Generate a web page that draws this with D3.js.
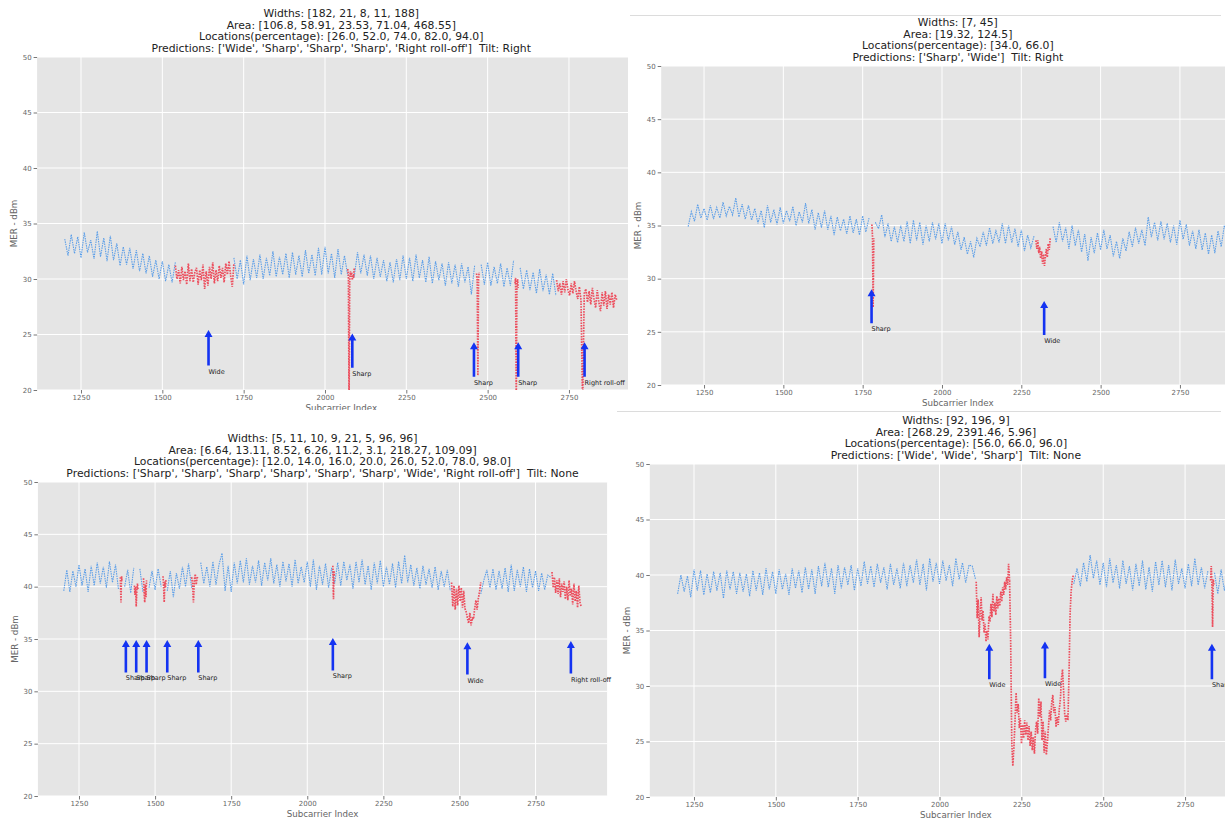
<!DOCTYPE html>
<html>
<head>
<meta charset="utf-8">
<script src="https://cdn.jsdelivr.net/npm/d3@7"></script>
<style>
  body { margin: 0; background: #fff; }
  text { font-family: "DejaVu Sans", sans-serif; }
</style>
</head>
<body>
<svg id="chart" width="1225" height="821"></svg>
<script>
// ---- data ----
const xStart = 1200, xStep = 10;
const xTicks = [1250, 1500, 1750, 2000, 2250, 2500, 2750];
const yTicks = [20, 25, 30, 35, 40, 45, 50];

// panel 1 (top left)
const p1Widths = [182, 21, 8, 11, 188];
const p1Area = [106.8, 58.91, 23.53, 71.04, 468.55];
const p1Loc = [26.0, 52.0, 74.0, 82.0, 94.0];
const p1Pred = ['Wide', 'Sharp', 'Sharp', 'Sharp', 'Right roll-off'];
const p1Tilt = 'Right';
const p1ArrowHead = [25.4, 25.1, 24.3, 24.3, 24.3];
const p1ArrowTail = [22.2, 22.0, 21.2, 21.2, 21.2];
const p1Blue = [
  33.6, 32.1, 34.0, 32.3, 33.8, 31.9, 34.2, 32.4, 33.5, 31.8,
  34.3, 32.0, 33.7, 31.6, 33.9, 31.7, 33.2, 31.2, 32.9, 31.3,
  32.8, 30.9, 32.6, 30.7, 32.3, 30.5, 32.1, 30.2, 31.7, 30.0,
  31.6, 29.8, 31.3, 29.7, 31.5, 29.4, 31.3, 29.6, 31.2, 29.5,
  31.7, 29.4, 31.1, 29.2, 31.4, 29.6, 31.6, 29.3, 31.2, 29.8,
  31.8, 29.4, 31.9, 30.0, 31.7, 29.5, 32.1, 29.9, 31.8, 30.1,
  32.2, 30.0, 31.9, 30.3, 32.5, 30.2, 32.0, 30.4, 32.3, 30.1,
  32.4, 30.4, 32.1, 30.2, 32.6, 30.5, 32.2, 30.3, 32.8, 30.4,
  32.9, 30.5, 32.3, 30.1, 32.7, 30.4, 32.1, 30.3, 32.0, 30.2,
  32.4, 30.5, 32.2, 30.3, 32.1, 30.0, 31.9, 30.2, 31.7, 29.8,
  31.5, 29.7, 31.8, 29.9, 32.1, 30.0, 31.9, 29.8, 32.2, 30.1,
  31.7, 29.7, 32.0, 29.6, 31.6, 29.9, 31.4, 29.4, 31.5, 29.6,
  31.3, 29.3, 31.4, 29.7, 31.1, 28.6, 31.2, 29.4, 31.3, 29.5,
  31.5, 29.4, 31.1, 29.6, 31.4, 29.3, 31.0, 29.4, 31.7, 29.2,
  31.0, 29.1, 30.8, 29.0, 30.6, 28.7, 30.9, 28.9, 30.4, 28.6,
  30.5, 28.5, 30.0, 28.4, 30.3, 28.2, 29.9, 28.1, 30.1, 27.9,
  29.8, 27.6, 29.5, 27.3, 29.4, 27.7, 29.1, 27.4, 29.3, 27.5,
  28.5
];
const p1Red = [
  { start: 1540, step: 5, values: [
    31.2, 30.0, 30.8, 29.6, 31.1, 29.9, 30.7, 29.5, 31.4, 29.8,
    30.9, 29.7, 30.6, 31.0, 29.5, 30.8, 29.9, 31.3, 29.1, 30.7,
    29.4, 31.1, 30.0, 31.5, 29.6, 30.8, 29.8, 31.2, 30.1, 31.0,
    29.7, 31.4, 30.4, 31.6, 30.3, 29.3, 31.4] },
  { start: 2070, step: 2, values: [30.9, 30.3, 18.5, 29.8, 30.7, 30.2, 30.6, 29.9, 30.4, 30.1, 31.0] },
  { start: 2466, step: 2, values: [30.5, 29.8, 21.3, 30.0, 30.6] },
  { start: 2584, step: 2, values: [29.6, 30.1, 18.5, 29.4, 30.0, 29.2] },
  { start: 2712, step: 5, values: [
    29.9, 28.9, 29.6, 28.6, 29.8, 28.8, 30.0, 29.0, 28.5, 29.6,
    28.7, 29.8, 28.9, 28.2, 29.3, 28.1, 18.5, 28.7, 29.1, 27.9,
    28.9, 27.7, 29.2, 28.2, 27.4, 29.0, 27.9, 27.1, 28.8, 27.6,
    28.9, 27.3, 28.6, 27.7, 28.8, 27.4, 28.6, 28.1] }
];

// panel 2 (top right)
const p2Widths = [7, 45];
const p2Area = [19.32, 124.5];
const p2Loc = [34.0, 66.0];
const p2Pred = ['Sharp', 'Wide'];
const p2Tilt = 'Right';
const p2ArrowHead = [29.0, 27.9];
const p2ArrowTail = [25.8, 24.7];
const p2Blue = [
  34.9, 36.3, 35.4, 37.0, 35.7, 36.6, 35.5, 36.9, 35.6, 36.7,
  35.7, 37.2, 35.9, 36.8, 36.0, 37.6, 35.8, 37.0, 35.6, 36.9,
  35.5, 36.6, 35.2, 36.4, 34.8, 36.9, 35.3, 36.5, 35.1, 36.7,
  35.2, 36.4, 35.4, 36.8, 35.0, 36.3, 35.3, 37.1, 35.2, 36.5,
  34.6, 36.2, 34.8, 36.4, 34.6, 35.9, 34.1, 35.8, 34.5, 35.6,
  34.2, 35.9, 34.3, 35.6, 34.1, 35.9, 34.4, 35.7, 34.5, 35.3,
  34.7, 36.0, 33.9, 35.2, 33.5, 34.9, 33.4, 35.0, 33.5, 35.4,
  33.3, 35.5, 33.6, 35.3, 33.2, 35.0, 33.5, 35.3, 33.7, 35.2,
  33.3, 35.2, 33.6, 34.9, 33.2, 34.4, 32.7, 33.9, 32.3, 33.5,
  32.0, 33.8, 33.0, 34.4, 33.1, 34.8, 33.3, 34.5, 33.4, 35.2,
  33.3, 35.0, 33.4, 34.7, 33.0, 34.6, 32.6, 34.1, 32.9, 34.0,
  32.5, 33.2, 32.3, 33.4, 33.1, 34.9, 33.4, 35.3, 33.5, 34.8,
  32.8, 35.0, 33.1, 34.6, 32.5, 34.2, 31.7, 33.9, 32.4, 34.3,
  32.7, 34.6, 32.8, 34.1, 32.1, 33.5, 31.9, 33.8, 32.6, 34.4,
  33.0, 34.8, 33.3, 34.6, 33.1, 35.8, 33.9, 35.3, 33.6, 35.4,
  33.7, 35.2, 33.4, 35.0, 33.2, 35.5, 33.7, 35.1, 33.1, 34.5,
  32.8, 34.6, 32.7, 34.3, 32.3, 34.1, 32.4, 34.5, 33.0, 35.0,
  34.3
];
const p2Red = [
  { start: 1779, step: 2, values: [35.1, 34.0, 27.3, 33.8] },
  { start: 2296, step: 3, values: [33.6, 32.8, 33.6, 32.4, 33.0, 31.9, 32.6, 31.4, 32.3, 31.2, 32.1, 32.8, 32.0, 33.3, 32.7, 33.8] }
];

// panel 3 (bottom left)
const p3Widths = [5, 11, 10, 9, 21, 5, 96, 96];
const p3Area = [6.64, 13.11, 8.52, 6.26, 11.2, 3.1, 218.27, 109.09];
const p3Loc = [12.0, 14.0, 16.0, 20.0, 26.0, 52.0, 78.0, 98.0];
const p3Pred = ['Sharp', 'Sharp', 'Sharp', 'Sharp', 'Sharp', 'Sharp', 'Wide', 'Right roll-off'];
const p3Tilt = 'None';
const p3ArrowHead = [34.9, 34.9, 34.9, 34.9, 34.9, 35.1, 34.7, 34.8];
const p3ArrowTail = [31.8, 31.8, 31.8, 31.8, 31.8, 32.0, 31.6, 31.7];
const p3Blue = [
  39.6, 41.6, 39.5, 41.5, 40.0, 42.1, 40.1, 41.7, 39.5, 42.0,
  40.1, 42.3, 40.3, 41.9, 39.9, 42.4, 40.4, 42.1, 39.7, 41.9,
  40.0, 41.6, 39.4, 41.8, 39.8, 41.7, 39.5, 42.0, 39.9, 41.5,
  39.7, 41.7, 40.0, 42.1, 39.6, 41.5, 39.0, 41.3, 39.8, 41.9,
  40.0, 42.2, 39.9, 41.7, 40.2, 42.3, 40.3, 41.9, 40.0, 42.4,
  40.2, 42.1, 43.2, 39.6, 42.0, 39.5, 42.3, 40.3, 42.5, 40.4,
  42.7, 40.2, 42.0, 40.4, 42.5, 40.1, 42.3, 40.6, 42.7, 40.3,
  42.1, 40.0, 42.4, 40.5, 42.2, 40.0, 42.6, 40.3, 41.9, 40.4,
  42.4, 40.0, 42.6, 39.7, 42.0, 40.2, 42.2, 39.9, 41.8, 40.3,
  42.3, 40.1, 42.4, 40.6, 42.1, 39.8, 42.4, 40.4, 42.6, 40.2,
  42.0, 39.7, 42.3, 40.3, 42.5, 40.0, 41.9, 40.2, 42.2, 39.9,
  42.4, 40.3, 43.0, 40.4, 42.1, 40.1, 41.8, 39.8, 42.0, 40.2,
  41.7, 39.9, 41.9, 39.7, 41.5, 40.0, 41.6, 39.6, 39.8, 39.4,
  39.6, 39.1, 38.6, 37.4, 36.9, 37.2, 38.1, 39.3, 40.6, 41.6,
  39.9, 41.7, 39.7, 41.5, 39.8, 41.8, 39.5, 42.1, 39.6, 41.6,
  40.0, 41.9, 39.5, 41.7, 39.9, 41.5, 39.6, 41.3, 39.7, 41.1,
  40.9, 40.1, 39.8, 40.3, 39.5, 39.9, 39.2, 39.7, 38.9, 39.4,
  39.0
];
const p3Red = [
  { start: 1386, step: 1, values: [40.9, 39.6, 38.5, 40.2, 41.0, 40.5] },
  { start: 1432, step: 2, values: [40.1, 39.2, 40.0, 38.1, 39.6, 40.3, 39.7] },
  { start: 1462, step: 2, values: [40.8, 39.4, 38.5, 40.2, 39.0, 40.6] },
  { start: 1526, step: 2, values: [41.0, 40.1, 38.5, 40.5, 39.9, 40.7] },
  { start: 1620, step: 3, values: [40.9, 40.3, 38.5, 40.6, 41.2, 40.2, 40.8, 41.0] },
  { start: 2084, step: 1, values: [42.0, 40.5, 38.8, 40.2, 41.5, 41.0] },
  { start: 2474, step: 4, values: [
    40.4, 38.1, 40.1, 37.8, 39.8, 38.2, 40.1, 38.6, 39.9, 38.0,
    39.6, 37.9, 37.6, 37.0, 36.5, 37.5, 36.3, 37.0, 36.9, 37.9,
    38.7, 37.8, 38.9, 39.5, 40.4] },
  { start: 2804, step: 4, values: [
    41.4, 39.9, 40.9, 39.4, 40.6, 39.3, 40.8, 39.0, 40.3, 39.5,
    40.5, 38.8, 40.0, 38.7, 40.6, 39.1, 39.8, 38.3, 40.3, 38.6,
    39.6, 38.0, 40.1, 38.5, 38.1] }
];

// panel 4 (bottom right)
const p4Widths = [92, 196, 9];
const p4Area = [268.29, 2391.46, 5.96];
const p4Loc = [56.0, 66.0, 96.0];
const p4Pred = ['Wide', 'Wide', 'Sharp'];
const p4Tilt = 'None';
const p4ArrowHead = [33.8, 34.0, 33.8];
const p4ArrowTail = [30.6, 30.7, 30.6];
const p4Blue = [
  38.3, 40.0, 38.5, 39.9, 38.0, 40.5, 38.6, 40.4, 38.2, 40.1,
  38.4, 40.3, 38.6, 40.2, 37.9, 40.4, 38.7, 40.3, 38.3, 40.2,
  38.5, 40.1, 38.1, 40.4, 38.6, 40.2, 38.2, 40.6, 38.7, 40.3,
  38.3, 40.5, 38.7, 40.1, 38.2, 40.6, 38.8, 40.4, 38.4, 40.7,
  38.7, 40.5, 38.3, 40.8, 39.0, 41.1, 38.9, 40.6, 38.3, 40.9,
  38.8, 40.7, 39.1, 40.9, 38.6, 40.6, 39.0, 41.2, 39.2, 40.8,
  38.9, 41.0, 39.3, 40.7, 38.7, 41.0, 39.1, 40.6, 38.8, 41.1,
  39.0, 40.9, 39.3, 41.4, 39.1, 41.0, 38.6, 41.5, 39.4, 41.1,
  39.2, 41.3, 39.5, 40.9, 39.0, 41.5, 39.6, 41.1, 39.3, 40.9,
  40.8, 39.6, null, null, null, null, null, null, null, null,
  null, null, null, null, null, null, null, null, null, null,
  null, null, null, null, null, null, null, null, null, null,
  null, 39.2, 40.6, 39.0, 41.1, 39.4, 41.8, 39.7, 41.3, 39.1,
  41.1, 38.9, 41.5, 39.3, 40.9, 38.8, 41.3, 39.2, 40.8, 38.6,
  41.0, 39.0, 41.3, 38.7, 40.7, 38.5, 41.2, 39.1, 41.3, 38.9,
  40.9, 38.6, 41.4, 39.2, 40.6, 38.8, 41.0, 39.0, 41.5, 39.1,
  40.7, 38.8, 40.4, 39.4, 40.2, 38.3, 40.5, 38.6, 40.1, 38.9,
  39.5
];
const p4Red = [
  { start: 2112, step: 3, values: [
    39.4, 36.1, 37.8, 34.4, 36.6, 38.0, 35.9, 36.8, 34.8, 35.6,
    34.0, 35.0, 34.2, 36.3, 35.8, 37.4, 36.2, 38.3, 36.7, 37.5,
    36.4, 38.1, 37.0, 37.9, 37.2, 38.5, 37.6, 38.9, 38.2, 39.4,
    38.7, 39.8, 39.1, 41.0, 39.5] },
  { start: 2214, step: 3.3, values: [
    39.5, 34.0, 25.0, 22.8, 24.5, 26.8, 29.4, 27.6, 28.4, 26.2,
    27.1, 24.8, 26.5, 25.3, 26.9, 25.6, 26.7, 25.1, 26.4, 24.6,
    25.9, 24.2, 25.4, 23.9, 26.0, 26.8, 25.7, 28.9, 27.2, 28.6,
    25.1, 26.8, 24.0, 25.9, 23.8, 24.9, 26.4, 27.8, 26.9, 28.5,
    29.2, 27.6, 28.1, 26.3, 27.2, 26.5, 27.9, 28.8, 30.6, 31.5,
    29.5, 27.5, 26.8, 27.4, 26.9, 31.0, 36.5, 38.6, 39.5, 40.0] },
  { start: 2828, step: 2, values: [39.5, 40.8, 39.3, 35.3, 39.6, 39.1] }
];

// ---- layout of the four screenshots ----
const panels = [
  { clip: [0, 0, 628, 410], left: 37.1, right: 645.4, top: 57, bottom: 390,
    widths: p1Widths, area: p1Area, loc: p1Loc, pred: p1Pred, tilt: p1Tilt,
    head: p1ArrowHead, tail: p1ArrowTail, blue: p1Blue, red: p1Red },
  { clip: [628, 0, 597, 410], left: 661.2, right: 1254.5, top: 66, bottom: 385, border: 15,
    widths: p2Widths, area: p2Area, loc: p2Loc, pred: p2Pred, tilt: p2Tilt,
    head: p2ArrowHead, tail: p2ArrowTail, blue: p2Blue, red: p2Red },
  { clip: [0, 410, 615, 411], left: 37.9, right: 607.1, top: 482, bottom: 796,
    widths: p3Widths, area: p3Area, loc: p3Loc, pred: p3Pred, tilt: p3Tilt,
    head: p3ArrowHead, tail: p3ArrowTail, blue: p3Blue, red: p3Red },
  { clip: [615, 411, 610, 410], left: 649.8, right: 1262, top: 464, bottom: 797, border: 411,
    widths: p4Widths, area: p4Area, loc: p4Loc, pred: p4Pred, tilt: p4Tilt,
    head: p4ArrowHead, tail: p4ArrowTail, blue: p4Blue, red: p4Red }
];

const svg = d3.select('#chart');
const defs = svg.append('defs');

panels.forEach((p, k) => {
  // clip to the screenshot tile
  defs.append('clipPath').attr('id', 'tile' + k)
    .append('rect')
    .attr('x', p.clip[0]).attr('y', p.clip[1])
    .attr('width', p.clip[2]).attr('height', p.clip[3]);
  defs.append('clipPath').attr('id', 'plot' + k)
    .append('rect')
    .attr('x', p.left).attr('y', p.top)
    .attr('width', p.right - p.left).attr('height', p.bottom - p.top);

  const g = svg.append('g').attr('clip-path', `url(#tile${k})`);

  if (p.border !== undefined) {
    g.append('line')
      .attr('x1', p.clip[0] + 2).attr('x2', p.clip[0] + p.clip[2] - 4)
      .attr('y1', p.border + 0.5).attr('y2', p.border + 0.5)
      .attr('stroke', '#dcdcdc').attr('stroke-width', 1);
  }

  const x = d3.scaleLinear().domain([1115, 2985]).range([p.left, p.right]);
  const y = d3.scaleLinear().domain([20, 50]).range([p.bottom, p.top]);

  g.append('rect')
    .attr('x', p.left).attr('y', p.top)
    .attr('width', p.right - p.left).attr('height', p.bottom - p.top)
    .attr('fill', '#e5e5e5');

  // grid
  g.append('g').selectAll('line').data(xTicks).join('line')
    .attr('x1', d => x(d)).attr('x2', d => x(d))
    .attr('y1', p.top).attr('y2', p.bottom)
    .attr('stroke', '#fff').attr('stroke-width', 1);
  g.append('g').selectAll('line').data(yTicks).join('line')
    .attr('x1', p.left).attr('x2', p.right)
    .attr('y1', d => y(d)).attr('y2', d => y(d))
    .attr('stroke', '#fff').attr('stroke-width', 1);

  // axes
  const xAxisG = g.append('g')
    .attr('transform', `translate(0,${p.bottom})`)
    .call(d3.axisBottom(x).tickValues(xTicks).tickFormat(d3.format('d')).tickSize(3.5).tickPadding(2));
  const yAxisG = g.append('g')
    .attr('transform', `translate(${p.left},0)`)
    .call(d3.axisLeft(y).tickValues(yTicks).tickFormat(d3.format('d')).tickSize(3.5).tickPadding(2));
  [xAxisG, yAxisG].forEach(a => {
    a.select('.domain').remove();
    a.selectAll('line').attr('stroke', '#777');
    a.selectAll('text').attr('fill', '#666').style('font-size', '7px')
      .style('font-family', '"DejaVu Sans", sans-serif');
  });

  g.append('text')
    .attr('x', (p.left + p.right) / 2).attr('y', p.bottom + 21)
    .attr('text-anchor', 'middle').attr('fill', '#666')
    .style('font-size', '8.7px')
    .text('Subcarrier Index');
  g.append('text')
    .attr('transform', `translate(${p.left - 20},${(p.top + p.bottom) / 2}) rotate(-90)`)
    .attr('text-anchor', 'middle').attr('fill', '#666')
    .style('font-size', '8.7px')
    .text('MER - dBm');

  // title
  const lines = [
    `Widths: [${p.widths.join(', ')}]`,
    `Area: [${p.area.join(', ')}]`,
    `Locations(percentage): [${p.loc.map(v => v.toFixed(1)).join(', ')}]`,
    `Predictions: [${p.pred.map(s => `'${s}'`).join(', ')}]  Tilt: ${p.tilt}`
  ];
  g.append('g').selectAll('text').data(lines).join('text')
    .attr('x', (p.left + p.right) / 2)
    .attr('y', (d, i) => p.top - 5 - (3 - i) * 11.7)
    .attr('text-anchor', 'middle').attr('fill', '#222')
    .style('font-size', '10.8px').style('white-space', 'pre')
    .text(d => d);

  // series
  const plot = g.append('g').attr('clip-path', `url(#plot${k})`);
  const segEnd = s => s.start + s.step * (s.values.length - 1);
  const bluePts = p.blue.map((v, i) => [xStart + i * xStep, v]);
  const line = d3.line().x(d => x(d[0])).y(d => y(d[1]))
    .defined(d => d[1] !== null && !p.red.some(s => d[0] > s.start && d[0] < segEnd(s)));
  plot.append('path')
    .attr('d', line(bluePts))
    .attr('fill', 'none').attr('stroke', '#5b9ee8')
    .attr('stroke-width', 1.1).attr('stroke-dasharray', '1.5,0.9');
  p.red.forEach(s => {
    const pts = s.values.map((v, i) => [s.start + i * s.step, v]);
    plot.append('path')
      .attr('d', d3.line().x(d => x(d[0])).y(d => y(d[1]))(pts))
      .attr('fill', 'none').attr('stroke', '#ec4f5e')
      .attr('stroke-width', 1.7).attr('stroke-dasharray', '1.6,1.1');
  });

  // arrows
  p.loc.forEach((l, i) => {
    const ax = x(1200 + l / 100 * 1700);
    const yh = y(p.head[i]), yt = y(p.tail[i]);
    g.append('path')
      .attr('d', `M${ax - 1.3},${yt} L${ax - 1.3},${yh + 7} L${ax - 4},${yh + 7} L${ax},${yh} ` +
                 `L${ax + 4},${yh + 7} L${ax + 1.3},${yh + 7} L${ax + 1.3},${yt} Z`)
      .attr('fill', '#1433f2');
    g.append('text')
      .attr('x', ax).attr('y', yt + 8)
      .attr('fill', '#222').style('font-size', '6.5px')
      .text(p.pred[i]);
  });
});
</script>
</body>
</html>
